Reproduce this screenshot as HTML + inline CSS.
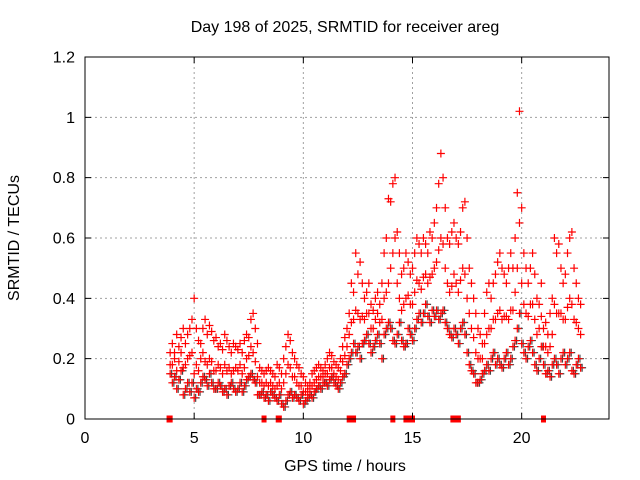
<!DOCTYPE html>
<html><head><meta charset="utf-8"><style>
html,body{margin:0;padding:0;background:#fff;}
svg{display:block;font-family:"Liberation Sans",sans-serif;}
</style></head><body>
<svg id="chart" width="640" height="480" viewBox="0 0 640 480">
<rect x="0" y="0" width="640" height="480" fill="#fff"/>
<g id="grid"></g>
<g id="marks"></g>
<rect x="85" y="57" width="524" height="362" fill="none" stroke="#000" stroke-width="1"/>
<g id="ticks"></g>
<text x="345" y="32" font-size="16" text-anchor="middle">Day 198 of 2025, SRMTID for receiver areg</text>
<text x="345" y="471" font-size="16" text-anchor="middle">GPS time / hours</text>
<text x="0" y="0" font-size="16" text-anchor="middle" transform="translate(19,238) rotate(-90)">SRMTID / TECUs</text>
</svg>
<script>
const xTicks=[0,5,10,15,20];
const yTicks=[0,0.2,0.4,0.6,0.8,1,1.2];
const yTickLabels=["0","0.2","0.4","0.6","0.8","1","1.2"];
const startHour=3.9, stepHour=0.1;
const seriesHigh=[.22,
.25,.22,.28,.24,.27,.30,.25,.28,.30,.33,
.40,.30,.26,.25,.30,.33,.28,.31,.29,.26,
.27,.24,.25,.23,.28,.26,.24,.22,.25,.24,
.23,.25,.22,.26,.28,.27,.33,.35,.30,.25,
.17,.16,.15,.16,.17,.16,.15,.14,.18,.17,
.15,.20,.24,.28,.26,.22,.20,.18,.17,.15,
.14,.12,.11,.12,.15,.16,.17,.18,.17,.16,
.18,.20,.22,.21,.19,.18,.17,.20,.24,.27,
.30,.35,.45,.42,.55,.48,.52,.45,.40,.42,
.45,.38,.36,.40,.42,.38,.45,.55,.60,.73,
.72,.78,.80,.62,.55,.48,.50,.55,.52,.48,
.50,.55,.60,.58,.55,.60,.58,.55,.62,.60,
.65,.70,.78,.88,.80,.70,.60,.58,.62,.65,
.60,.58,.62,.70,.72,.60,.50,.45,.40,.35,
.30,.28,.25,.35,.42,.45,.40,.45,.48,.52,
.55,.50,.48,.45,.50,.55,.50,.60,.75,1.02,
.70,.55,.50,.45,.50,.55,.48,.40,.38,.45,
.30,.32,.28,.35,.40,.60,.55,.58,.50,.45,
.48,.55,.60,.62,.50,.45,.40,.38];
const seriesLow=[.15,
.12,.14,.10,.13,.16,.08,.10,.12,.09,.12,
.07,.10,.09,.12,.14,.13,.11,.15,.12,.10,
.10,.12,.11,.09,.10,.08,.11,.12,.10,.09,
.10,.12,.09,.11,.13,.14,.15,.13,.12,.08,
.08,.09,.07,.08,.06,.09,.08,.07,.06,.08,
.05,.04,.06,.08,.09,.07,.08,.07,.06,.08,
.05,.06,.07,.08,.07,.09,.10,.11,.10,.12,
.12,.11,.13,.14,.12,.11,.10,.12,.14,.15,
.18,.20,.22,.25,.22,.24,.20,.25,.26,.28,
.25,.22,.24,.26,.28,.25,.20,.28,.30,.32,
.30,.26,.25,.28,.32,.26,.24,.25,.30,.28,
.26,.30,.33,.35,.32,.35,.38,.34,.32,.36,
.34,.36,.33,.35,.36,.32,.30,.28,.27,.30,
.28,.25,.30,.32,.28,.22,.18,.16,.15,.12,
.12,.13,.15,.16,.18,.16,.20,.22,.18,.20,
.18,.17,.20,.22,.18,.20,.24,.26,.30,.35,
.25,.22,.20,.24,.26,.22,.18,.16,.20,.24,
.18,.15,.16,.14,.18,.20,.18,.15,.20,.22,
.18,.20,.22,.16,.15,.18,.20,.17];
const seriesMid=[.18,
.18,.20,.16,.19,.22,.17,.18,.20,.21,.22,
.15,.18,.16,.20,.22,.19,.18,.20,.19,.16,
.16,.18,.17,.15,.18,.16,.17,.15,.16,.17,
.16,.18,.15,.17,.20,.21,.24,.22,.19,.14,
.12,.12,.11,.12,.11,.12,.11,.10,.11,.12,
.10,.12,.15,.18,.17,.14,.14,.12,.11,.11,
.09,.09,.09,.10,.11,.12,.13,.14,.14,.14,
.15,.15,.17,.17,.15,.14,.13,.16,.19,.21,
.24,.28,.32,.33,.36,.35,.33,.34,.33,.35,
.35,.30,.30,.33,.35,.32,.33,.40,.42,.45,
.50,.55,.60,.45,.40,.36,.38,.40,.41,.38,
.38,.42,.46,.45,.43,.47,.48,.45,.47,.48,
.50,.52,.56,.60,.58,.50,.45,.42,.44,.48,
.45,.42,.46,.50,.48,.40,.35,.30,.27,.22,
.20,.20,.20,.25,.28,.30,.30,.33,.33,.35,
.36,.33,.34,.34,.33,.36,.36,.42,.50,.65,
.45,.38,.35,.34,.38,.38,.33,.28,.30,.34,
.24,.24,.22,.24,.28,.38,.35,.35,.35,.33,
.33,.37,.40,.38,.33,.32,.30,.28];
const zeroHours=[3.85,3.9,8.2,8.85,8.9,12.1,12.15,12.3,14.1,14.7,14.8,14.85,14.95,15.0,16.85,16.95,17.1,21.0];
const X0=85,X1=609,Y0=419,Y1=57,XMAX=24,YMAX=1.2;
function xs(h){return X0+(X1-X0)*h/XMAX;}
function ys(v){return Y0-(Y0-Y1)*v/YMAX;}
const NS="http://www.w3.org/2000/svg";
const grid=document.getElementById('grid'),marks=document.getElementById('marks'),ticks=document.getElementById('ticks');
function mk(tag,attrs,parent){const e=document.createElementNS(NS,tag);for(const k in attrs)e.setAttribute(k,attrs[k]);parent.appendChild(e);return e;}
xTicks.forEach(t=>{
 const x=xs(t);
 if(t>0){const g=mk('line',{x1:x,y1:Y0,x2:x,y2:Y1,stroke:'#a0a0a0','stroke-dasharray':'2,3'},grid);
 
 }
 const tk=mk('path',{d:`M${x} ${Y0}v-6M${x} ${Y1}v6`,stroke:'#000'},ticks);
 
 
 const lb=mk('text',{x:x,y:443,'font-size':16,'text-anchor':'middle'},ticks);lb.textContent=String(t);
 
 
});
yTicks.forEach((t,i)=>{
 const y=ys(t);
 if(t>0&&t<YMAX){const g=mk('line',{x1:X0,y1:y,x2:X1,y2:y,stroke:'#a0a0a0','stroke-dasharray':'2,3'},grid);
 
 }
 const tk=mk('path',{d:`M${X0} ${y}h6M${X1} ${y}h-6`,stroke:'#000'},ticks);
 
 
 const lb=mk('text',{x:75,y:y+5.5,'font-size':16,'text-anchor':'end'},ticks);lb.textContent=yTickLabels[i];
 
 
});
function plus(h,v,color,off){
 const x=xs(h)+off,y=ys(v);
 const p=mk('path',{d:`M${x-4} ${y}h8M${x} ${y-4}v8`,stroke:color,'stroke-width':1.2},marks);
 
 
}
seriesLow.forEach((v,i)=>{const h=startHour+i*stepHour;plus(h,v,'#444',1.5);});
[seriesLow,seriesMid,seriesHigh].forEach(arr=>{
 arr.forEach((v,i)=>{const h=startHour+i*stepHour;plus(h,v,'#ff0000',0);});
});
zeroHours.forEach(h=>{
 const x=xs(h);
 const p=mk('rect',{x:x-2.5,y:Y0-3.5,width:5,height:7,fill:'#ff0000'},marks);
 
 
});
</script>
</body></html>
